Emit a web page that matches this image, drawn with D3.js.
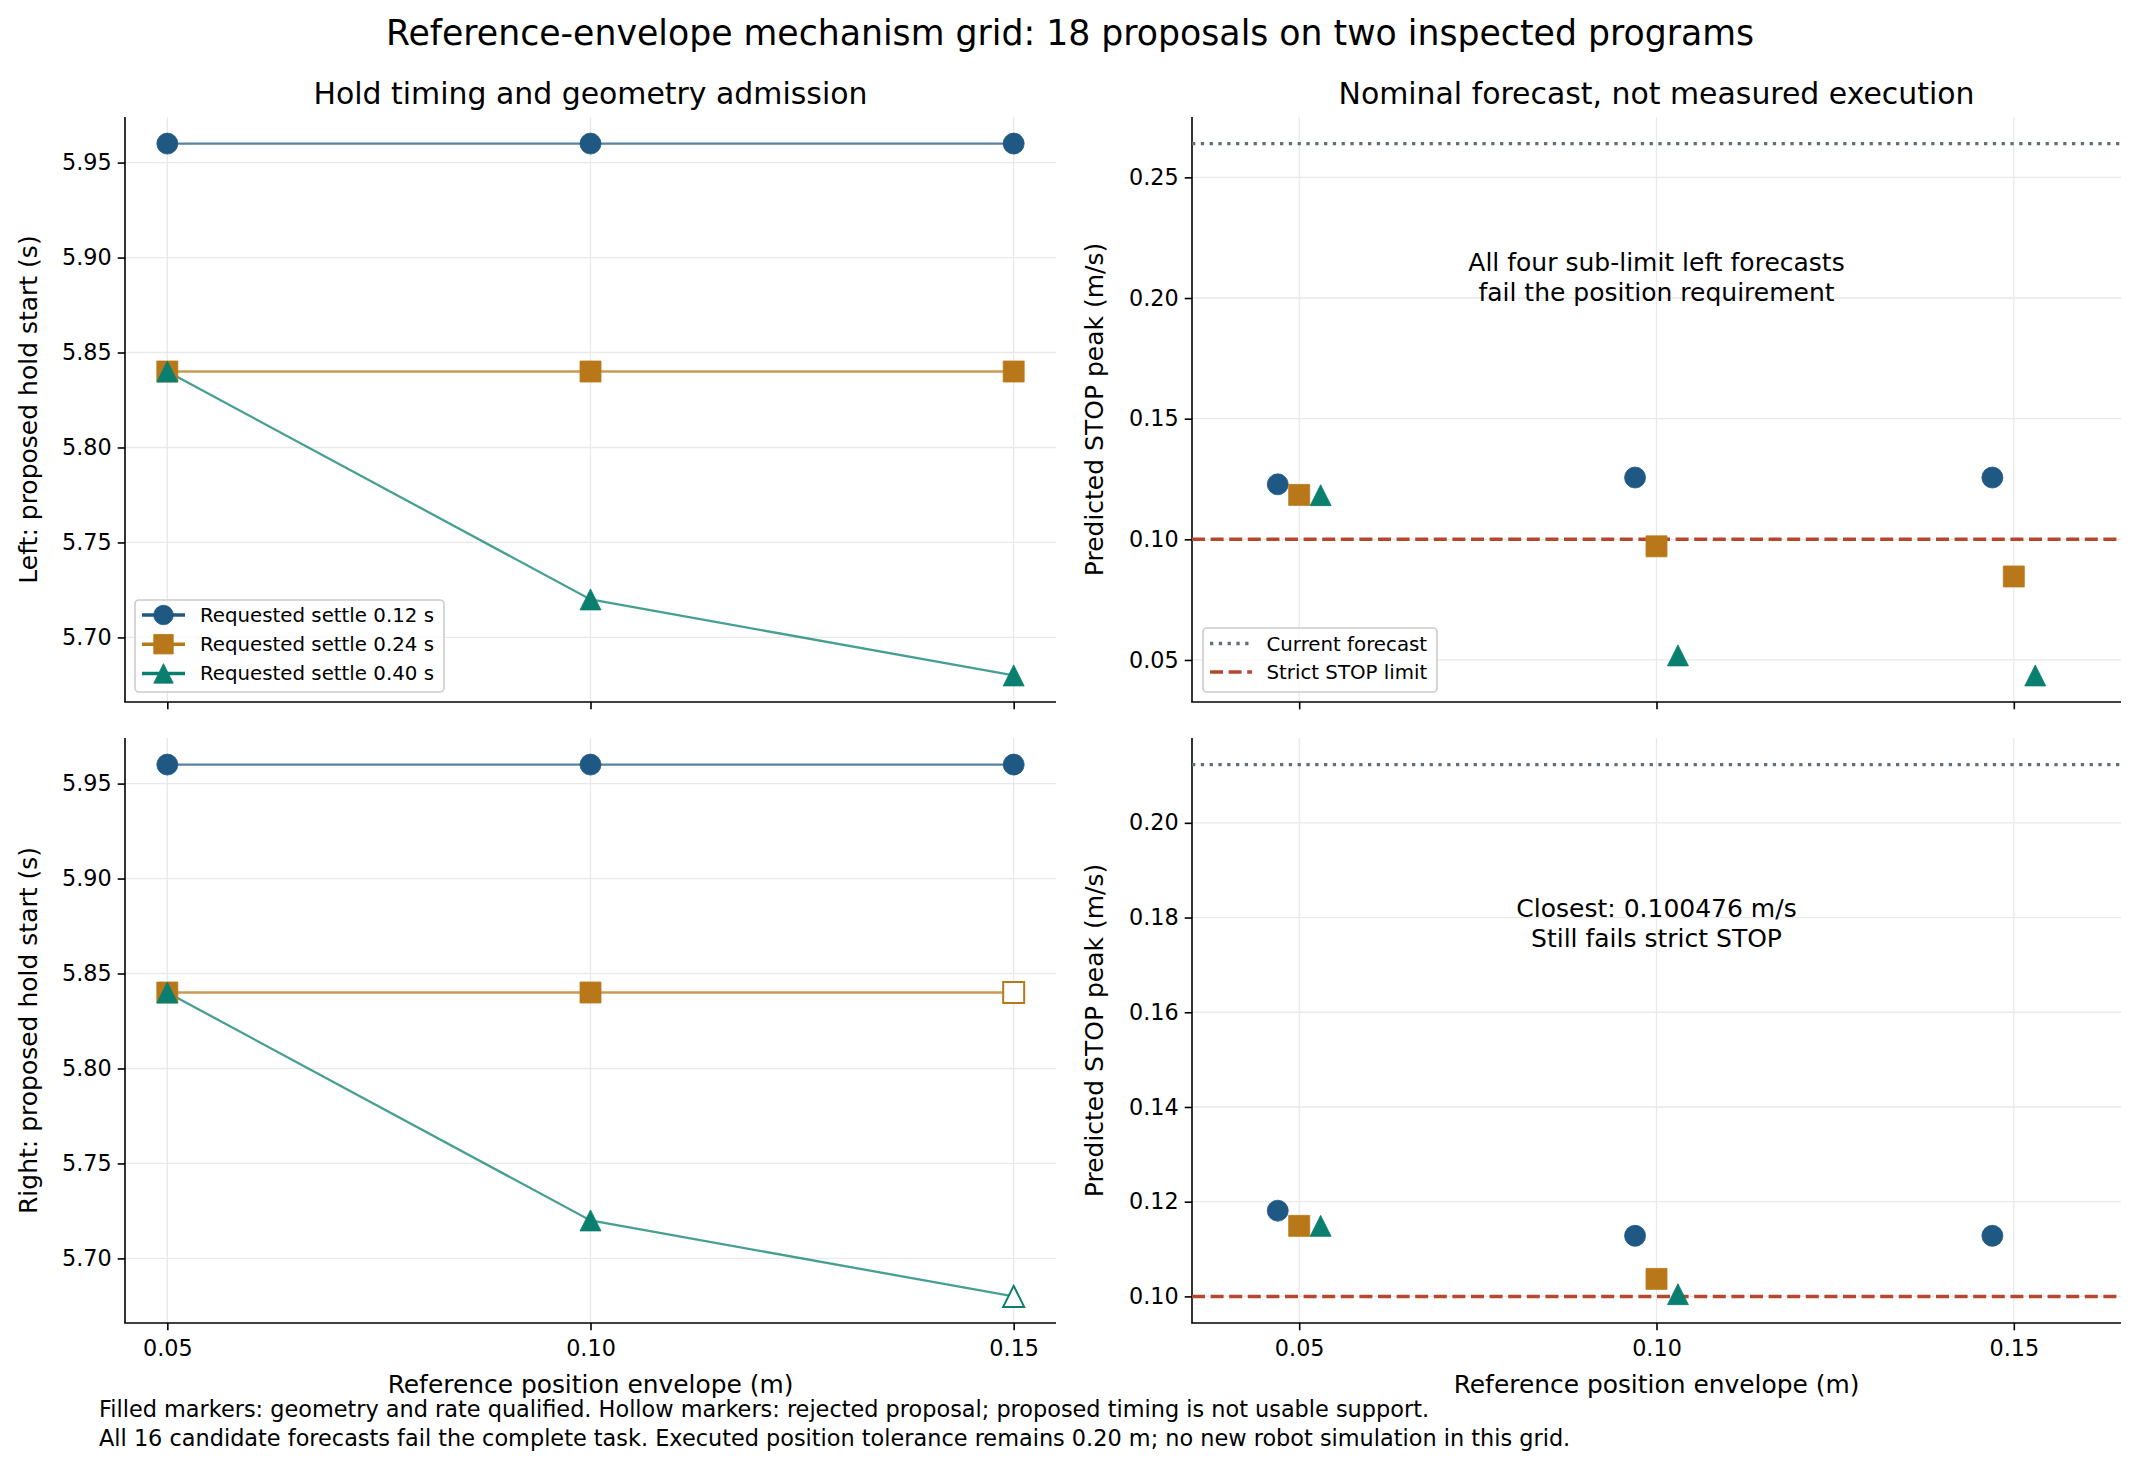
<!DOCTYPE html>
<html>
<head>
<meta charset="utf-8">
<script src="https://cdn.jsdelivr.net/npm/d3@7"></script>
<style>
  body { margin: 0; background: #fff; }
  svg { font-family: "DejaVu Sans", sans-serif; }
</style>
</head>
<body>
<svg id="chart" width="2141" height="1466"></svg>
<script>
"use strict";

// ---- data ----
const envelopes = [0.05, 0.10, 0.15];
const settleLabels = ["Requested settle 0.12 s", "Requested settle 0.24 s", "Requested settle 0.40 s"];
const envelopeTicks = [0.05, 0.10, 0.15];

// proposed hold start (s), one row per requested settle
const leftHoldStart = [
  [5.96, 5.96, 5.96],
  [5.84, 5.84, 5.84],
  [5.84, 5.72, 5.68]
];
const rightHoldStart = [
  [5.96, 5.96, 5.96],
  [5.84, 5.84, 5.84],
  [5.84, 5.72, 5.68]
];
const leftRejected = [
  [false, false, false],
  [false, false, false],
  [false, false, false]
];
const rightRejected = [
  [false, false, false],
  [false, false, true],
  [false, false, true]
];

// predicted STOP peak (m/s); null = no forecast (rejected proposal)
const leftPeak = [
  [0.1228, 0.1256, 0.1256],
  [0.1184, 0.0971, 0.0846],
  [0.1183, 0.0519, 0.0436]
];
const rightPeak = [
  [0.1181, 0.1128, 0.1128],
  [0.1149, 0.1037, null],
  [0.1149, 0.100476, null]
];
const leftCurrentForecast = 0.264;
const rightCurrentForecast = 0.2123;
const strictStopLimit = 0.10;

const holdTicks = [5.70, 5.75, 5.80, 5.85, 5.90, 5.95];
const leftPeakTicks = [0.05, 0.10, 0.15, 0.20, 0.25];
const rightPeakTicks = [0.10, 0.12, 0.14, 0.16, 0.18, 0.20];

// small sideways offset of the series in the forecast panels
const seriesJitter = [-0.003, 0, 0.003];

// ---- styling ----
const colors = ["#1f5883", "#b8781a", "#0a7f6f"];
const markerSize = 21;
const limitColor = "#b5472f";
const forecastColor = "#5f6f7f";
const gridColor = "#e9e9e9";

const svg = d3.select("#chart");

// circle / square / triangle, all "size" pixels wide and tall, centred on the point
function markerPath(i, size) {
  const h = size / 2;
  if (i === 0) {
    const p = d3.path();
    p.arc(0, 0, h, 0, 2 * Math.PI);
    p.closePath();
    return p.toString();
  }
  if (i === 1) return `M${-h},${-h}H${h}V${h}H${-h}Z`;
  return `M0,${-h}L${h},${h}H${-h}Z`;
}

function makeAxes(box, xDomain, yDomain, yTicks, showXLabels) {
  const x = d3.scaleLinear().domain(xDomain).range([box.x0, box.x1]);
  const y = d3.scaleLinear().domain(yDomain).range([box.y1, box.y0]);
  const g = svg.append("g");

  // grid
  g.append("g").selectAll("line").data(envelopeTicks).enter().append("line")
    .attr("x1", d => x(d)).attr("x2", d => x(d))
    .attr("y1", box.y0).attr("y2", box.y1)
    .attr("stroke", gridColor).attr("stroke-width", 1.3);
  g.append("g").selectAll("line").data(yTicks).enter().append("line")
    .attr("x1", box.x0).attr("x2", box.x1)
    .attr("y1", d => y(d)).attr("y2", d => y(d))
    .attr("stroke", gridColor).attr("stroke-width", 1.3);

  const xAxis = g.append("g")
    .attr("transform", `translate(0,${box.y1})`)
    .call(d3.axisBottom(x).tickValues(envelopeTicks).tickSize(7.3).tickPadding(5)
      .tickFormat(showXLabels ? d3.format(".2f") : ""));
  const yAxis = g.append("g")
    .attr("transform", `translate(${box.x0},0)`)
    .call(d3.axisLeft(y).tickValues(yTicks).tickSize(7.3).tickPadding(6)
      .tickFormat(d3.format(".2f")));

  [xAxis, yAxis].forEach(a => {
    a.select(".domain").remove();
    a.selectAll(".tick line").attr("stroke", "#000").attr("stroke-width", 1.6);
    a.selectAll(".tick text").attr("fill", "#000").style("font-size", "22.3px")
      .style("font-family", "DejaVu Sans");
  });
  xAxis.selectAll(".tick text").attr("dy", "0.95em");

  // left and bottom spines only
  g.append("line").attr("x1", box.x0).attr("x2", box.x0).attr("y1", box.y0).attr("y2", box.y1)
    .attr("stroke", "#000").attr("stroke-width", 1.6);
  g.append("line").attr("x1", box.x0 - 0.8).attr("x2", box.x1).attr("y1", box.y1).attr("y2", box.y1)
    .attr("stroke", "#000").attr("stroke-width", 1.6);

  const plot = svg.append("g");
  return { x, y, g, plot };
}

function addText(x, y, txt, size, anchor, rotate) {
  const t = svg.append("text")
    .attr("x", x).attr("y", y)
    .attr("text-anchor", anchor || "middle")
    .style("font-size", size + "px")
    .attr("fill", "#000")
    .text(txt);
  if (rotate) t.attr("transform", `rotate(${rotate},${x},${y})`);
  return t;
}

function drawMarker(group, i, cx, cy, hollow, size) {
  group.append("path")
    .attr("d", markerPath(i, size || markerSize))
    .attr("transform", `translate(${cx},${cy})`)
    .attr("fill", hollow ? "#fff" : colors[i])
    .attr("stroke", colors[i])
    .attr("stroke-width", hollow ? 2 : 1)
    .attr("stroke-opacity", hollow ? 1 : 0.8);
}

// ---- hold timing panels ----
function holdPanel(box, values, rejected, ylabel) {
  const ax = makeAxes(box, [0.045, 0.155], [5.666, 5.974], holdTicks, box.y0 > 400);
  const line = d3.line().x((d, j) => ax.x(envelopes[j])).y(d => ax.y(d));
  values.forEach((row, i) => {
    ax.plot.append("path")
      .datum(row)
      .attr("d", line)
      .attr("fill", "none")
      .attr("stroke", colors[i])
      .attr("stroke-width", 2.3)
      .attr("stroke-opacity", 0.75);
  });
  values.forEach((row, i) => {
    row.forEach((v, j) => drawMarker(ax.plot, i, ax.x(envelopes[j]), ax.y(v), rejected[i][j]));
  });
  addText(37, (box.y0 + box.y1) / 2, ylabel, 25, "middle", -90);
  return ax;
}

// ---- forecast panels ----
function forecastPanel(box, values, current, yTicks, ylabel, note) {
  const all = values.flat().filter(v => v !== null).concat([current, strictStopLimit]);
  const ext = d3.extent(all);
  const pad = (ext[1] - ext[0]) * 0.05;
  const ax = makeAxes(box, [0.035, 0.165], [ext[0] - pad, ext[1] + pad], yTicks, box.y0 > 400);

  ax.plot.append("line")
    .attr("x1", box.x0).attr("x2", box.x1)
    .attr("y1", ax.y(current)).attr("y2", ax.y(current))
    .attr("stroke", forecastColor).attr("stroke-width", 3.3)
    .attr("stroke-dasharray", "3.3,5.5");
  ax.plot.append("line")
    .attr("x1", box.x0).attr("x2", box.x1)
    .attr("y1", ax.y(strictStopLimit)).attr("y2", ax.y(strictStopLimit))
    .attr("stroke", limitColor).attr("stroke-width", 3.5)
    .attr("stroke-dasharray", "13,5.6");

  values.forEach((row, i) => {
    row.forEach((v, j) => {
      if (v === null) return;
      drawMarker(ax.plot, i, ax.x(envelopes[j] + seriesJitter[i]), ax.y(v), false);
    });
  });

  addText(1103, (box.y0 + box.y1) / 2, ylabel, 25, "middle", -90);
  note.forEach((ln, k) => addText((box.x0 + box.x1) / 2, box.noteY + k * 29.5, ln, 25, "middle"));
  return ax;
}

const boxTL = { x0: 125, x1: 1056, y0: 117, y1: 702 };
const boxTR = { x0: 1192, x1: 2121, y0: 117, y1: 702, noteY: 271 };
const boxBL = { x0: 125, x1: 1056, y0: 738, y1: 1323 };
const boxBR = { x0: 1192, x1: 2121, y0: 738, y1: 1323, noteY: 917 };

holdPanel(boxTL, leftHoldStart, leftRejected, "Left: proposed hold start (s)");
holdPanel(boxBL, rightHoldStart, rightRejected, "Right: proposed hold start (s)");
forecastPanel(boxTR, leftPeak, leftCurrentForecast, leftPeakTicks, "Predicted STOP peak (m/s)",
  ["All four sub-limit left forecasts", "fail the position requirement"]);
forecastPanel(boxBR, rightPeak, rightCurrentForecast, rightPeakTicks, "Predicted STOP peak (m/s)",
  ["Closest: 0.100476 m/s", "Still fails strict STOP"]);

// ---- titles and labels ----
addText(1070, 45, "Reference-envelope mechanism grid: 18 proposals on two inspected programs", 34.7, "middle");
addText((boxTL.x0 + boxTL.x1) / 2, 103.5, "Hold timing and geometry admission", 29.9, "middle");
addText((boxTR.x0 + boxTR.x1) / 2, 103.5, "Nominal forecast, not measured execution", 29.9, "middle");
addText((boxBL.x0 + boxBL.x1) / 2, 1393, "Reference position envelope (m)", 24.9, "middle");
addText((boxBR.x0 + boxBR.x1) / 2, 1393, "Reference position envelope (m)", 24.9, "middle");
addText(99, 1417, "Filled markers: geometry and rate qualified. Hollow markers: rejected proposal; proposed timing is not usable support.", 22.4, "start");
addText(99, 1446, "All 16 candidate forecasts fail the complete task. Executed position tolerance remains 0.20 m; no new robot simulation in this grid.", 22.4, "start");

// ---- legends ----
function legendFrame(x, y, w, h) {
  svg.append("rect").attr("x", x).attr("y", y).attr("width", w).attr("height", h)
    .attr("rx", 4).attr("fill", "#fff").attr("fill-opacity", 0.8)
    .attr("stroke", "#cccccc").attr("stroke-width", 1.6);
}

legendFrame(135, 600, 309, 92);
settleLabels.forEach((lab, i) => {
  const yy = 615 + i * 29.2;
  svg.append("line").attr("x1", 142).attr("x2", 185).attr("y1", yy).attr("y2", yy)
    .attr("stroke", colors[i]).attr("stroke-width", 3.5);
  const lg = svg.append("g");
  drawMarker(lg, i, 163.5, yy, false, 19.5);
  addText(200, yy + 7, lab, 19.8, "start");
});

legendFrame(1203, 628, 234, 64);
const refLines = [
  { label: "Current forecast", color: forecastColor, dash: "3.3,5.5", w: 3.3 },
  { label: "Strict STOP limit", color: limitColor, dash: "13,5.6", w: 3.5 }
];
refLines.forEach((r, k) => {
  const yy = 643.5 + k * 28.4;
  svg.append("line").attr("x1", 1210).attr("x2", 1252).attr("y1", yy).attr("y2", yy)
    .attr("stroke", r.color).attr("stroke-width", r.w).attr("stroke-dasharray", r.dash);
  addText(1266.5, yy + 7, r.label, 19.8, "start");
});
</script>
</body>
</html>
